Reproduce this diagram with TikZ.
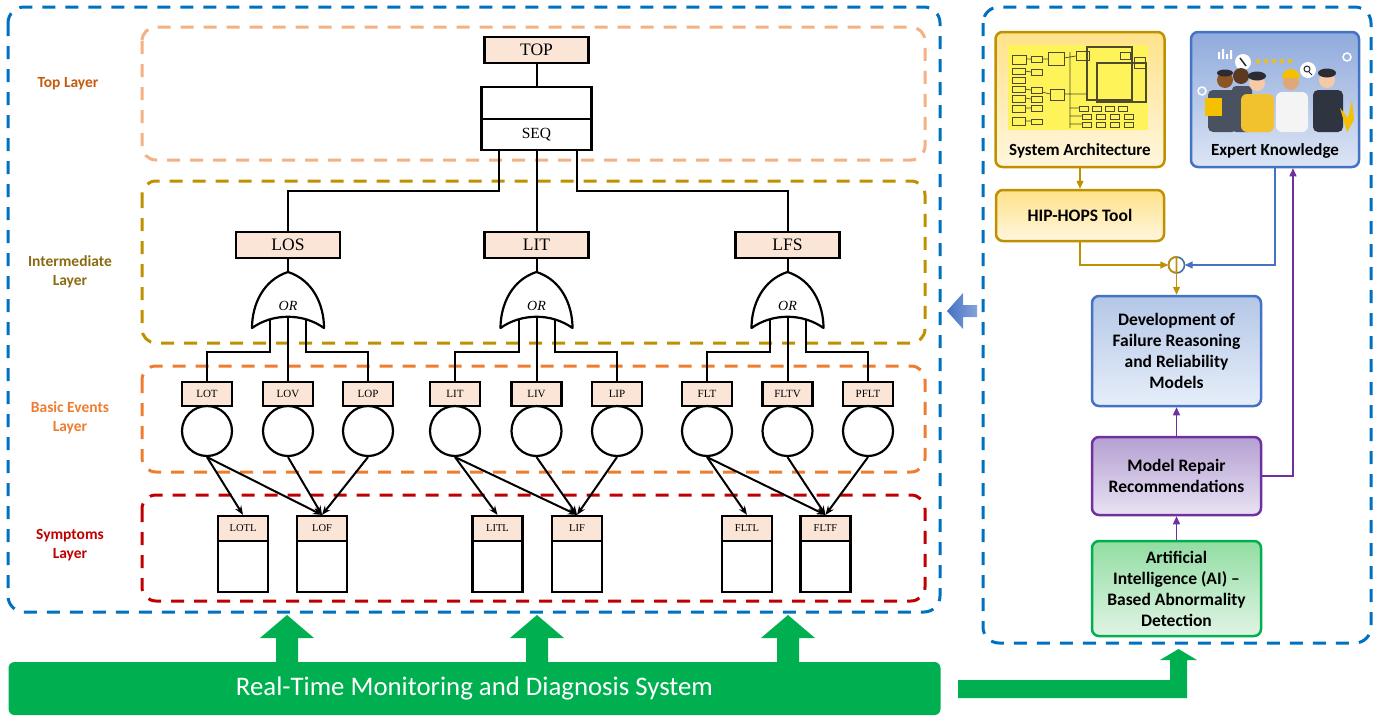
\documentclass[tikz,border=0pt]{standalone}
\usepackage{fontspec}
\setmainfont{Liberation Serif}
\newfontfamily\carlito{Carlito}
\usetikzlibrary{positioning,arrows.meta,shapes.geometric}

\definecolor{evpeach}{HTML}{FBE5D6}
\definecolor{panelblue}{HTML}{0070C0}
\definecolor{topframe}{HTML}{F4B183}
\definecolor{midframe}{HTML}{BF9000}
\definecolor{baseframe}{HTML}{ED7D31}
\definecolor{symframe}{HTML}{C00000}
\definecolor{topink}{HTML}{C55A11}
\definecolor{midink}{HTML}{8A6A10}
\definecolor{monigreen}{HTML}{00B050}
\definecolor{goldline}{HTML}{BF9000}
\definecolor{goldtop}{HTML}{FFE28A}
\definecolor{goldbot}{HTML}{FFF6DE}
\definecolor{blueline}{HTML}{4472C4}
\definecolor{sumblue}{HTML}{41719C}
\definecolor{experttop}{HTML}{8FAADC}
\definecolor{expertbot}{HTML}{DCE5F4}
\definecolor{devtop}{HTML}{B4C7E7}
\definecolor{devbot}{HTML}{E6EEF9}
\definecolor{purpleline}{HTML}{7030A0}
\definecolor{repairtop}{HTML}{B4A0D2}
\definecolor{repairbot}{HTML}{E9E2F3}
\definecolor{aitop}{HTML}{92DDA2}
\definecolor{aibot}{HTML}{E0F4E5}
\definecolor{schemyellow}{HTML}{FFF35A}
\definecolor{schemgrey}{HTML}{4D4A2E}
\definecolor{skindark}{HTML}{5C3A21}
\definecolor{skinbrown}{HTML}{8D5524}
\definecolor{skinlight}{HTML}{F5CBA7}
\definecolor{skintan}{HTML}{E0A878}
\definecolor{hairdark}{HTML}{2B2B33}
\definecolor{suitgrey}{HTML}{4A5160}
\definecolor{suitdark}{HTML}{2F3540}
\definecolor{sweater}{HTML}{F2C12E}
\definecolor{shirtwhite}{HTML}{F4F4F4}
\definecolor{starink}{HTML}{F5C000}

\tikzset{
  layerframe/.style={line width=3pt, dash pattern=on 13pt off 10pt, rounded corners=14pt},
  layername/.style={align=center, font=\carlito\bfseries\fontsize{15.5}{19}\selectfont},
  evbox/.style={draw, line width=2.2pt, fill=evpeach, minimum width=104pt, minimum height=26pt, inner sep=0pt, font=\fontsize{17.5}{18}\selectfont},
  seqpart/.style={draw, line width=2.2pt, fill=white, minimum width=110pt, inner sep=0pt, font=\fontsize{15.5}{16}\selectfont},
  basebox/.style={draw, line width=2.2pt, fill=evpeach, minimum width=50pt, minimum height=24pt, inner sep=0pt, font=\fontsize{11}{12}\selectfont},
  basecirc/.style={draw, line width=2.2pt, circle, minimum size=50pt, inner sep=0pt},
  symhead/.style={draw, line width=2.2pt, fill=evpeach, minimum width=50pt, minimum height=25pt, inner sep=0pt, font=\fontsize{10.5}{11}\selectfont},
  symbody/.style={draw, line width=2.2pt, fill=white, minimum width=50pt, minimum height=51pt, inner sep=0pt},
  wire/.style={line width=2pt},
  causes/.style={line width=2pt, -{Stealth[length=9pt, width=7pt]}},
  stagebox/.style={draw, line width=2.5pt, rounded corners=7pt, inner sep=0pt, align=center, font=\carlito\bfseries\fontsize{17.5}{21}\selectfont},
  stagename/.style={font=\carlito\bfseries\fontsize{17}{20}\selectfont},
  flow/.style={line width=1.4pt, -{Triangle[length=8pt, width=7pt]}},
  schemline/.style={schemgrey, line width=0.7pt},
  orgate/.pic={
    \draw[line width=2.2pt, fill=white, line join=round]
      (0,0) .. controls (25,8) and (36,33) .. (36,56)
            .. controls (15,41) and (-15,41) .. (-36,56)
            .. controls (-36,33) and (-25,8) .. (0,0);
    \node[font=\itshape\fontsize{14}{14}\selectfont] (-label) at (0,34) {OR};
    \coordinate (-top) at (0,0);
    \coordinate (-in1) at (-18,48);
    \coordinate (-in2) at (0,45);
    \coordinate (-in3) at (18,48);
  }
}

\begin{document}
\begin{tikzpicture}[x=1pt, y=-1pt]
\useasboundingbox (0,0) rectangle (1382,718);

\draw[layerframe, panelblue, rounded corners=16pt] (8,7) rectangle (940,612);
\draw[layerframe, panelblue, rounded corners=16pt] (983,7) rectangle (1371,643);
\draw[layerframe, topframe] (142,27) rectangle (925,160);
\draw[layerframe, midframe] (142,181) rectangle (925,343);
\draw[layerframe, baseframe] (142,366) rectangle (925,472);
\draw[layerframe, symframe] (142,495) rectangle (925,601);

\node[layername, topink] (toplbl) at (68,84) {Top Layer};
\node[layername, midink] (midlbl) at (70,272) {Intermediate\\Layer};
\node[layername, baseframe] (baselbl) at (70,418) {Basic Events\\Layer};
\node[layername, symframe] (symlbl) at (70,545) {Symptoms\\Layer};

% fault tree
\node[evbox] (top) at (536.5,50) {TOP};
\node[seqpart, minimum height=32pt] (seqgate) at (536.5,103) {};
\node[seqpart, minimum height=31pt, below=-2.2pt of seqgate] (seq) {SEQ};

\node[evbox] (los) at (288,245) {LOS};
\node[evbox] (lit) at (536.5,245) {LIT};
\node[evbox] (lfs) at (787.5,245) {LFS};
\pic (orlos) at (288,272) {orgate};
\pic (orlit) at (536.5,272) {orgate};
\pic (orlfs) at (787.5,272) {orgate};

\node[basebox] (lot) at (207,394) {LOT};
\node[basebox] (lov) at (288,394) {LOV};
\node[basebox] (lop) at (368,394) {LOP};
\node[basebox] (litb) at (455,394) {LIT};
\node[basebox] (liv) at (536.5,394) {LIV};
\node[basebox] (lip) at (617,394) {LIP};
\node[basebox] (flt) at (707,394) {FLT};
\node[basebox] (fltv) at (787.5,394) {FLTV};
\node[basebox] (pflt) at (868,394) {PFLT};
\node[basecirc, below=-2.2pt of lot] (lotc) {};
\node[basecirc, below=-2.2pt of lov] (lovc) {};
\node[basecirc, below=-2.2pt of lop] (lopc) {};
\node[basecirc, below=-2.2pt of litb] (litbc) {};
\node[basecirc, below=-2.2pt of liv] (livc) {};
\node[basecirc, below=-2.2pt of lip] (lipc) {};
\node[basecirc, below=-2.2pt of flt] (fltc) {};
\node[basecirc, below=-2.2pt of fltv] (fltvc) {};
\node[basecirc, below=-2.2pt of pflt] (pfltc) {};

\node[symhead] (lotl) at (243,528.5) {LOTL};
\node[symhead] (lof) at (322,528.5) {LOF};
\node[symhead] (litl) at (497.5,528.5) {LITL};
\node[symhead] (lif) at (577,528.5) {LIF};
\node[symhead] (fltl) at (747,528.5) {FLTL};
\node[symhead] (fltf) at (825.5,528.5) {FLTF};
\node[symbody, below=-2.2pt of lotl] (lotlbody) {};
\node[symbody, below=-2.2pt of lof] (lofbody) {};
\node[symbody, below=-2.2pt of litl] (litlbody) {};
\node[symbody, below=-2.2pt of lif] (lifbody) {};
\node[symbody, below=-2.2pt of fltl] (fltlbody) {};
\node[symbody, below=-2.2pt of fltf] (fltfbody) {};

\draw[wire] (top) -- (seqgate);
\draw[wire] ([xshift=-38pt]seq.south) -- ++(0,40) -| (los.north);
\draw[wire] (seq) -- (lit);
\draw[wire] ([xshift=40pt]seq.south) -- ++(0,40) -| (lfs.north);
\draw[wire] (los) -- (orlos-top);
\draw[wire] (lit) -- (orlit-top);
\draw[wire] (lfs) -- (orlfs-top);

\draw[wire] (orlos-in1) -- ++(0,32) -| (lot.north);
\draw[wire] (orlos-in2) -- (lov);
\draw[wire] (orlos-in3) -- ++(0,32) -| (lop.north);
\draw[wire] (orlit-in1) -- ++(0,32) -| (litb.north);
\draw[wire] (orlit-in2) -- (liv);
\draw[wire] (orlit-in3) -- ++(0,32) -| (lip.north);
\draw[wire] (orlfs-in1) -- ++(0,32) -| (flt.north);
\draw[wire] (orlfs-in2) -- (fltv);
\draw[wire] (orlfs-in3) -- ++(0,32) -| (pflt.north);

\draw[causes] (lotc.south) -- (lotl.north);
\draw[causes] (lotc.south) -- (lof.north);
\draw[causes] (lovc.south) -- (lof.north);
\draw[causes] (lopc.south) -- (lof.north);
\draw[causes] (litbc.south) -- (litl.north);
\draw[causes] (litbc.south) -- (lif.north);
\draw[causes] (livc.south) -- (lif.north);
\draw[causes] (lipc.south) -- (lif.north);
\draw[causes] (fltc.south) -- (fltl.north);
\draw[causes] (fltc.south) -- (fltf.north);
\draw[causes] (fltvc.south) -- (fltf.north);
\draw[causes] (pfltc.south) -- (fltf.north);

% modelling panel
\node[stagebox, draw=goldline, top color=goldtop, bottom color=goldbot, minimum width=169pt, minimum height=135pt] (sysarch) at (1080,99.5) {};
\fill[schemyellow] (1008,45) rectangle (1148,130);
\foreach \x/\y/\w/\h in {1012/55/14/9, 1012/68/13/6, 1012/77/13/6, 1012/86/13/6, 1012/95/13/7, 1012/105/13/7, 1012/117/13/8,
    1031/56/11/6, 1031/69/11/6, 1031/87/11/6, 1031/96/11/6, 1031/105/11/6, 1031/119/11/5,
    1048/52/16/13, 1050/89/14/11, 1076/51/13/9, 1120/52/10/7, 1134/57/11/11,
    1079/106/9/5, 1092/106/9/5, 1105/106/9/5, 1118/106/9/5,
    1082/114/9/5, 1096/114/9/5, 1110/114/9/5, 1124/114/9/5,
    1082/122/9/5, 1096/122/9/5, 1110/122/9/5, 1124/122/9/5}
  \draw[schemline] (\x,\y) rectangle ++(\w,\h);
\draw[schemline, line width=1.2pt] (1087,47) rectangle (1132,100) (1097,63) rectangle (1146,102);
\draw[schemline] (1026,59) -- (1031,59) (1025,71) -- (1031,72) (1025,89) -- (1031,90) (1025,98) -- (1031,99)
  (1025,108) -- (1031,108) (1025,121) -- (1031,121) (1042,59) -- (1048,59) (1042,92) -- (1050,94)
  (1064,58) -- (1076,56) (1070,52) -- (1070,128) (1064,94) -- (1087,94) (1070,108) -- (1079,108)
  (1070,116) -- (1082,116) (1070,124) -- (1082,124);
\node[stagename] (sysarchname) at ([yshift=17pt]sysarch.south) {System Architecture};

\node[stagebox, draw=blueline, top color=experttop, bottom color=expertbot, minimum width=168pt, minimum height=135pt] (expert) at (1275,99.5) {};
\fill[white] (1218,59) rectangle ++(2,-7) (1222,59) rectangle ++(2,-10) (1226,59) rectangle ++(2,-5) (1230,59) rectangle ++(2,-9);
\draw[white, line width=1.5pt] (1202,91) circle[radius=4pt] (1347,57) circle[radius=4pt];
\fill[white] (1243,62) circle[radius=8pt] (1308,70) circle[radius=8pt];
\draw[hairdark, line width=1.5pt] (1240,58) -- (1246,66);
\draw[hairdark, line width=1pt] (1307,69) circle[radius=3pt] (1309,72) -- (1312,75);
\foreach \i in {0,...,4}
  \node[star, star points=5, star point ratio=2.2, fill=starink, minimum size=6pt, inner sep=0pt] (rating\i) at (1258+8*\i,61) {};
\fill[skindark] (1241,76) circle[radius=8pt];
\fill[suitgrey, rounded corners=4pt] (1232,86) rectangle (1252,132);
\fill[suitgrey, rounded corners=5pt] (1208,90) rectangle (1237,132);
\fill[skinbrown] (1225,80) circle[radius=8pt];
\fill[hairdark] (1225,73) ellipse[x radius=8pt, y radius=3.5pt];
\fill[starink] (1205,98) rectangle (1222,116);
\fill[sweater, rounded corners=6pt] (1241,94) rectangle (1274,132);
\fill[skinlight] (1257,83) circle[radius=8pt];
\fill[hairdark] (1257,76) ellipse[x radius=9pt, y radius=4.5pt];
\fill[shirtwhite, rounded corners=6pt] (1276,92) rectangle (1308,132);
\fill[skintan] (1291,82) circle[radius=8pt];
\fill[starink] (1282,78) arc[start angle=180, end angle=0, radius=9pt] -- cycle;
\fill[suitdark, rounded corners=5pt] (1313,90) rectangle (1343,132);
\fill[skinlight] (1327,80) circle[radius=8pt];
\fill[hairdark] (1327,73) ellipse[x radius=9pt, y radius=4.5pt];
\fill[starink] (1347,132) -- (1340,108) -- (1348,118) -- (1352,100) -- (1354,120) -- cycle;
\node[stagename] (expertname) at ([yshift=17pt]expert.south) {Expert Knowledge};

\node[stagebox, draw=goldline, top color=goldtop, bottom color=goldbot, minimum width=168pt, minimum height=51pt] (hiphops) at (1080,215.5) {HIP-HOPS Tool};
\node[circle, minimum size=16pt, inner sep=0pt] (sum) at (1176.5,265) {};
\draw[sumblue, line width=1.6pt] (sum) circle[radius=8pt];
\draw[goldline, line width=1.6pt] (sum.north) arc[start angle=90, end angle=270, radius=8pt] -- cycle;
\node[stagebox, draw=blueline, top color=devtop, bottom color=devbot, minimum width=169pt, minimum height=110pt] (dev) at (1176.5,351) {Development of\\Failure Reasoning\\and Reliability\\Models};
\node[stagebox, draw=purpleline, top color=repairtop, bottom color=repairbot, minimum width=169pt, minimum height=78pt] (repair) at (1176.5,476) {Model Repair\\Recommendations};
\node[stagebox, draw=monigreen, top color=aitop, bottom color=aibot, minimum width=169pt, minimum height=95pt] (ai) at (1176.5,588.5) {Artificial\\Intelligence (AI) –\\Based Abnormality\\Detection};

\draw[flow, goldline] (sysarch) -- (hiphops);
\draw[flow, goldline] (hiphops.south) |- (sum.west);
\draw[flow, blueline] (expert.south) |- (sum.east);
\draw[flow, goldline] (sum.south) -- (dev.north);
\draw[flow, purpleline] (repair) -- (dev);
\draw[flow, purpleline] (ai) -- (repair);
\draw[flow, purpleline] (repair.east) -| ([xshift=18pt]expert.south);

% monitoring bar and feeds
\node[fill=monigreen, rounded corners=6pt, minimum width=932pt, minimum height=53pt, text=white, font=\carlito\fontsize{26.8}{28}\selectfont] (monitor) at (474.5,688.5) {Real-Time Monitoring and Diagnosis System};
\foreach \x in {287,537,788}
  \fill[monigreen] (\x-11,662) -- (\x-11,638) -- (\x-27,638) -- (\x,615) -- (\x+27,638) -- (\x+11,638) -- (\x+11,662) -- cycle;
\fill[monigreen] (958,680) -- (1170,680) -- (1170,660) -- (1160,660) -- (1178.5,649) -- (1197,660) -- (1187,660) -- (1187,698) -- (958,698) -- cycle;
\shade[left color=blueline, right color=blueline!65] (947,311) -- (963,293) -- (963,305) -- (977,305) -- (977,317) -- (963,317) -- (963,329) -- cycle;
\end{tikzpicture}
\end{document}
